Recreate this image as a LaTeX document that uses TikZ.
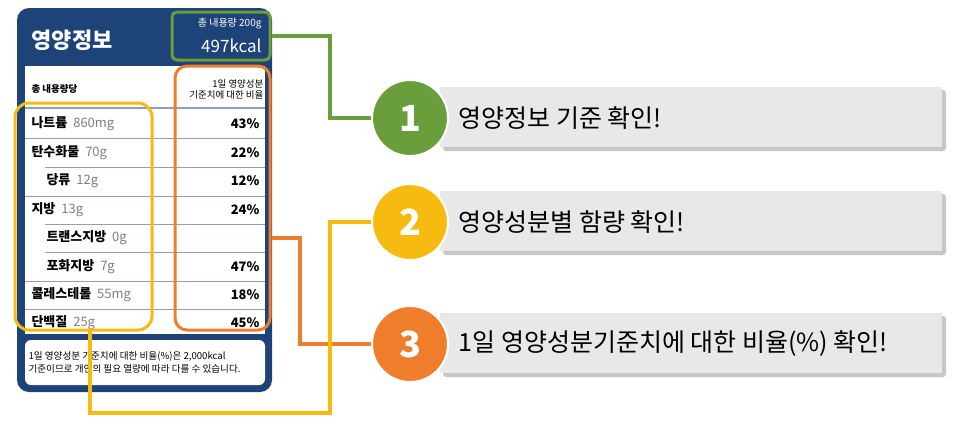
\documentclass[tikz,border=0pt]{standalone}
\usepackage{fontspec}
\setmainfont{Noto Sans CJK KR}
\usetikzlibrary{calc}
\definecolor{navy}{HTML}{1D4378}
\definecolor{gr}{HTML}{6A9E3A}
\definecolor{ye}{HTML}{F7BA10}
\definecolor{orr}{HTML}{EE7E2C}
\definecolor{sep}{HTML}{8FA0BC}
\definecolor{bar}{HTML}{E8E8E8}
\tikzset{
 rowl/.style={anchor=west,font=\fontsize{13}{14}\selectfont\bfseries},
 pct/.style={anchor=east,font=\fontsize{13}{14}\selectfont\bfseries},
 circ/.style={circle,minimum size=76pt,draw=white,line width=2pt,text=white,font=\fontsize{36}{36}\selectfont\bfseries},
 bartext/.style={anchor=west,font=\fontsize{25}{26}\selectfont},
 sepl/.style={sep,line width=1pt},
 conn/.style={line width=3.5pt},
}
\begin{document}
\begin{tikzpicture}[x=1pt,y=-1pt]
\useasboundingbox[fill=white] (0,0) rectangle (962,424);
% card
\fill[navy,rounded corners=12pt] (17,8) rectangle (272,392);
\fill[white] (25,66) rectangle (265,334);
\fill[white,rounded corners=6pt] (25,340) rectangle (265,385);
\node[text=white,font=\fontsize{22}{22}\selectfont\bfseries] (title) at (72,40) {영양정보};
\node[draw=gr,line width=3pt,rounded corners=5pt,minimum width=98pt,minimum height=48pt] (gbox) at (221,36) {};
\node[text=white,anchor=east,font=\fontsize{10}{10}\selectfont] at (265,24) {총 내용량 200g};
\node[text=white,anchor=east,font=\fontsize{17}{17}\selectfont] at (265,46) {497kcal};
\node[anchor=west,font=\fontsize{9.5}{10}\selectfont\bfseries] at (28,89) {총 내용량당};
\node[anchor=east,align=right,font=\fontsize{9.5}{11}\selectfont] at (267,89) {1일 영양성분\\기준치에 대한 비율};
% separators
\draw[sep,line width=1.8pt] (25,108)--(265,108);
\foreach \y in {138,196,281,309}{\draw[sepl] (25,\y)--(265,\y);}
\foreach \y in {167,224,252}{\draw[sepl] (45,\y)--(265,\y);}
% rows
\node[rowl] at (28,124) {나트륨 \textcolor{gray}{\mdseries\ 860mg}};
\node[rowl] at (28,153) {탄수화물 \textcolor{gray}{\mdseries\ 70g}};
\node[rowl] at (43,181) {당류 \textcolor{gray}{\mdseries\ 12g}};
\node[rowl] at (28,210) {지방 \textcolor{gray}{\mdseries\ 13g}};
\node[rowl] at (43,238) {트랜스지방 \textcolor{gray}{\mdseries\ 0g}};
\node[rowl] at (43,267) {포화지방 \textcolor{gray}{\mdseries\ 7g}};
\node[rowl] at (28,295) {콜레스테롤 \textcolor{gray}{\mdseries\ 55mg}};
\node[rowl] at (28,323) {단백질 \textcolor{gray}{\mdseries\ 25g}};
\node[pct] at (263,124) {43\%};
\node[pct] at (263,153) {22\%};
\node[pct] at (263,181) {12\%};
\node[pct] at (263,210) {24\%};
\node[pct] at (263,267) {47\%};
\node[pct] at (263,295) {18\%};
\node[pct] at (263,323) {45\%};
\node[anchor=west,align=left,font=\fontsize{9.6}{13}\selectfont] at (25,362) {1일 영양성분 기준치에 대한 비율(\%)은 2,000kcal\\기준이므로 개인의 필요 열량에 따라 다를 수 있습니다.};
% highlight boxes
\node[draw=ye,line width=3pt,rounded corners=14pt,minimum width=137pt,minimum height=227pt] (ybox) at (83.5,216.5) {};
\node[draw=orr,line width=3pt,rounded corners=12pt,minimum width=95pt,minimum height=264pt] (obox) at (222.5,198) {};
% bars
\foreach \y in {118,222,344}{
 \fill[black!22,rounded corners=3pt] (443,\y-28) rectangle (946,\y+33);
 \fill[bar] (440,\y-31) rectangle (942,\y+29);}
\node[bartext] (t1) at (455,118) {영양정보 기준 확인!};
\node[bartext] (t2) at (455,222) {영양성분별 함량 확인!};
\node[bartext] (t3) at (455,344) {1일 영양성분기준치에 대한 비율(\%) 확인!};
% circles
\node[circ,fill=gr] (c1) at (410,118) {1};
\node[circ,fill=ye] (c2) at (410,222) {2};
\node[circ,fill=orr] (c3) at (410,344) {3};
% connectors
\draw[gr,conn] (gbox.east) -- (330,36) -- (330,118) -- (c1.west);
\draw[orr,conn] (obox.east|-0,238) -- (300,238) -- (300,344) -- (c3.west);
\draw[ye,conn] (90,330) -- (90,413) -- (330,413) -- (330,222) -- (c2.west);
\end{tikzpicture}
\end{document}
